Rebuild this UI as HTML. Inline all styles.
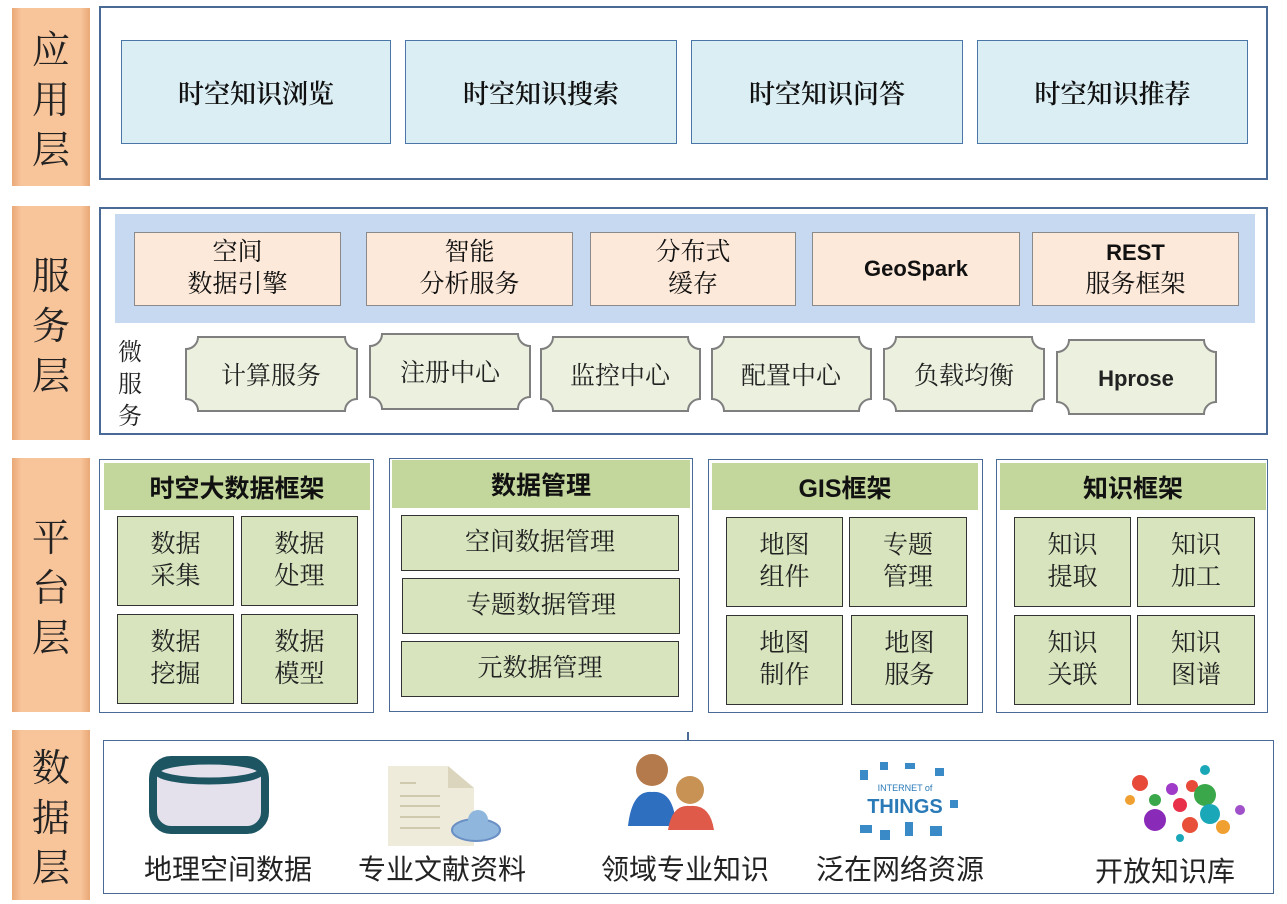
<!DOCTYPE html>
<html><head><meta charset="utf-8"><style>
body{margin:0;width:1287px;height:904px;background:#fff;position:relative;overflow:hidden;font-family:"Liberation Sans","Noto Sans CJK SC",sans-serif;color:#111}
.a{position:absolute;box-sizing:border-box}
.lab{background:linear-gradient(90deg,#e9a877 0%,#f8c49a 12%,#f8c49a 88%,#e9a877 100%);display:flex;flex-direction:column;align-items:center;justify-content:center;font-size:38px;line-height:50px;color:#222;font-family:"Noto Serif CJK SC","Liberation Serif",serif}
.box{border:2px solid #4a6a96;background:#fff}
.app{background:#dbeef4;border:1.5px solid #4a77a8;display:flex;align-items:center;justify-content:center;font-size:26px;font-family:"Liberation Serif","Noto Serif CJK SC",serif;font-weight:600}
.svc{background:#fde9d9;border:1.5px solid #8a8a8a;display:flex;align-items:center;justify-content:center;text-align:center;font-size:25px;line-height:32px;font-family:"Liberation Serif","Noto Serif CJK SC",serif}
.hd{background:#c3d69b;display:flex;align-items:center;justify-content:center;font-size:25px;font-weight:bold}
.c{background:#d7e4bd;border:1.5px solid #333;display:flex;align-items:center;justify-content:center;text-align:center;font-size:25px;line-height:32px;color:#222;font-family:"Liberation Serif","Noto Serif CJK SC",serif}
.dl{font-size:28px;color:#222;white-space:nowrap}
</style></head><body>
<div class="a lab" style="left:12px;top:8px;width:78px;height:178px">应<br>用<br>层</div>
<div class="a lab" style="left:12px;top:206px;width:78px;height:234px">服<br>务<br>层</div>
<div class="a lab" style="left:12px;top:458px;width:78px;height:254px">平<br>台<br>层</div>
<div class="a lab" style="left:12px;top:730px;width:78px;height:170px">数<br>据<br>层</div>

<div class="a box" style="left:99px;top:6px;width:1169px;height:174px"></div>
<div class="a app" style="left:121px;top:40px;width:270px;height:104px">时空知识浏览</div>
<div class="a app" style="left:405px;top:40px;width:272px;height:104px">时空知识搜索</div>
<div class="a app" style="left:691px;top:40px;width:272px;height:104px">时空知识问答</div>
<div class="a app" style="left:977px;top:40px;width:271px;height:104px">时空知识推荐</div>

<div class="a box" style="left:99px;top:207px;width:1169px;height:228px"></div>
<div class="a" style="left:115px;top:214px;width:1140px;height:109px;background:#c6d9f0"></div>
<div class="a svc" style="left:134px;top:232px;width:207px;height:74px">空间<br>数据引擎</div>
<div class="a svc" style="left:366px;top:232px;width:207px;height:74px">智能<br>分析服务</div>
<div class="a svc" style="left:590px;top:232px;width:206px;height:74px">分布式<br>缓存</div>
<div class="a svc" style="left:812px;top:232px;width:208px;height:74px;font-weight:bold;font-size:22px;font-family:'Liberation Sans',sans-serif">GeoSpark</div>
<div class="a svc" style="left:1032px;top:232px;width:207px;height:74px"><span><b style="font-size:22px;font-family:'Liberation Sans',sans-serif">REST</b><br>服务框架</span></div>
<div class="a" style="left:118px;top:334px;width:30px;font-size:24px;line-height:32px;color:#222;font-family:'Noto Serif CJK SC',serif">微<br>服<br>务</div>
<svg class="a" style="left:0;top:0" width="1287" height="904">
<g fill="#ebf1de" stroke="#7f7f7f" stroke-width="2">
<path d="M198,337 L345,337 A12,12 0 0 0 357,349 L357,399 A12,12 0 0 0 345,411 L198,411 A12,12 0 0 0 186,399 L186,349 A12,12 0 0 0 198,337Z"/>
<path d="M382,334 L518,334 A12,12 0 0 0 530,346 L530,397 A12,12 0 0 0 518,409 L382,409 A12,12 0 0 0 370,397 L370,346 A12,12 0 0 0 382,334Z"/>
<path d="M553,337 L688,337 A12,12 0 0 0 700,349 L700,399 A12,12 0 0 0 688,411 L553,411 A12,12 0 0 0 541,399 L541,349 A12,12 0 0 0 553,337Z"/>
<path d="M724,337 L859,337 A12,12 0 0 0 871,349 L871,399 A12,12 0 0 0 859,411 L724,411 A12,12 0 0 0 712,399 L712,349 A12,12 0 0 0 724,337Z"/>
<path d="M896,337 L1032,337 A12,12 0 0 0 1044,349 L1044,399 A12,12 0 0 0 1032,411 L896,411 A12,12 0 0 0 884,399 L884,349 A12,12 0 0 0 896,337Z"/>
<path d="M1069,340 L1204,340 A12,12 0 0 0 1216,352 L1216,402 A12,12 0 0 0 1204,414 L1069,414 A12,12 0 0 0 1057,402 L1057,352 A12,12 0 0 0 1069,340Z"/>
</g>
<g font-family="Liberation Serif,Noto Serif CJK SC,serif" font-size="25" fill="#222" text-anchor="middle">
<text x="271" y="384">计算服务</text><text x="450" y="381">注册中心</text><text x="620" y="384">监控中心</text>
<text x="791" y="384">配置中心</text><text x="964" y="384">负载均衡</text><text x="1136" y="386" font-weight="bold" font-size="22" font-family="Liberation Sans,sans-serif">Hprose</text>
</g>
<line x1="688" y1="732" x2="688" y2="741" stroke="#4a6a96" stroke-width="2"/>
</svg>

<div class="a box" style="left:99px;top:459px;width:275px;height:254px;border-width:1.5px"></div>
<div class="a hd" style="left:104px;top:463px;width:266px;height:47px">时空大数据框架</div>
<div class="a c" style="left:117px;top:516px;width:117px;height:90px">数据<br>采集</div>
<div class="a c" style="left:241px;top:516px;width:117px;height:90px">数据<br>处理</div>
<div class="a c" style="left:117px;top:614px;width:117px;height:90px">数据<br>挖掘</div>
<div class="a c" style="left:241px;top:614px;width:117px;height:90px">数据<br>模型</div>

<div class="a box" style="left:389px;top:458px;width:304px;height:254px;border-width:1.5px"></div>
<div class="a hd" style="left:392px;top:460px;width:298px;height:48px">数据管理</div>
<div class="a c" style="left:401px;top:515px;width:278px;height:56px">空间数据管理</div>
<div class="a c" style="left:402px;top:578px;width:278px;height:56px">专题数据管理</div>
<div class="a c" style="left:401px;top:641px;width:278px;height:56px">元数据管理</div>

<div class="a box" style="left:708px;top:459px;width:275px;height:254px;border-width:1.5px"></div>
<div class="a hd" style="left:712px;top:463px;width:266px;height:47px"><span>GIS框架</span></div>
<div class="a c" style="left:726px;top:517px;width:117px;height:90px">地图<br>组件</div>
<div class="a c" style="left:849px;top:517px;width:118px;height:90px">专题<br>管理</div>
<div class="a c" style="left:726px;top:615px;width:117px;height:90px">地图<br>制作</div>
<div class="a c" style="left:851px;top:615px;width:117px;height:90px">地图<br>服务</div>

<div class="a box" style="left:996px;top:459px;width:272px;height:254px;border-width:1.5px"></div>
<div class="a hd" style="left:1000px;top:463px;width:266px;height:47px">知识框架</div>
<div class="a c" style="left:1014px;top:517px;width:117px;height:90px">知识<br>提取</div>
<div class="a c" style="left:1137px;top:517px;width:118px;height:90px">知识<br>加工</div>
<div class="a c" style="left:1014px;top:615px;width:117px;height:90px">知识<br>关联</div>
<div class="a c" style="left:1137px;top:615px;width:118px;height:90px">知识<br>图谱</div>

<div class="a box" style="left:103px;top:740px;width:1171px;height:154px;border-width:1.5px"></div>
<svg class="a" style="left:0;top:0" width="1287" height="904">
<rect x="153" y="760" width="112" height="70" rx="18" fill="#e4e0ec" stroke="#1d5662" stroke-width="8"/>
<ellipse cx="209" cy="771" rx="52" ry="10" fill="#e4e0ec" stroke="#1d5662" stroke-width="7"/>
<path d="M388,766 L448,766 L474,788 L474,846 L388,846Z" fill="#efebdb"/>
<polygon points="448,766 474,788 448,788" fill="#dcd5bd"/>
<g stroke="#cfc9ae" stroke-width="2"><line x1="400" y1="783" x2="416" y2="783"/><line x1="400" y1="796" x2="440" y2="796"/><line x1="400" y1="806" x2="440" y2="806"/><line x1="400" y1="817" x2="440" y2="817"/><line x1="400" y1="828" x2="440" y2="828"/></g>
<ellipse cx="476" cy="830" rx="24" ry="11" fill="#8fb6dc" stroke="#6a8fc4" stroke-width="2"/>
<circle cx="478" cy="820" r="10" fill="#8fb6dc"/>
<circle cx="652" cy="770" r="16" fill="#b57a4c"/><path d="M628,826 Q632,790 652,792 Q674,790 676,826Z" fill="#2f6fc0"/>
<circle cx="690" cy="790" r="14" fill="#c89255"/><path d="M668,830 Q672,804 690,806 Q710,804 714,830Z" fill="#e05a4a"/>
<text x="905" y="813" font-family="Liberation Sans" font-weight="bold" font-size="20" fill="#2a7ab8" text-anchor="middle">THINGS</text>
<text x="905" y="791" font-family="Liberation Sans" font-size="9" fill="#2a7ab8" text-anchor="middle">INTERNET of</text>
<g fill="#3a8ac8"><rect x="860" y="770" width="8" height="10"/><rect x="880" y="762" width="8" height="8"/><rect x="905" y="763" width="10" height="6"/><rect x="935" y="768" width="9" height="8"/><rect x="860" y="825" width="12" height="8"/><rect x="880" y="830" width="10" height="10"/><rect x="905" y="822" width="8" height="14"/><rect x="930" y="826" width="12" height="10"/><rect x="950" y="800" width="8" height="8"/></g>
<g><circle cx="1140" cy="783" r="8" fill="#e84a3a"/><circle cx="1172" cy="789" r="6" fill="#a03ac8"/><circle cx="1192" cy="786" r="6" fill="#e84a3a"/><circle cx="1205" cy="795" r="11" fill="#3aa84a"/><circle cx="1155" cy="800" r="6" fill="#3aa84a"/><circle cx="1180" cy="805" r="7" fill="#e8304a"/><circle cx="1210" cy="814" r="10" fill="#1aa8b8"/><circle cx="1155" cy="820" r="11" fill="#8a2ab8"/><circle cx="1190" cy="825" r="8" fill="#e8503a"/><circle cx="1223" cy="827" r="7" fill="#f0a030"/><circle cx="1130" cy="800" r="5" fill="#f0a030"/><circle cx="1240" cy="810" r="5" fill="#a050c8"/><circle cx="1205" cy="770" r="5" fill="#1aa8b8"/><circle cx="1180" cy="838" r="4" fill="#1aa8b8"/></g>
</svg>
<div class="a dl" style="left:144px;top:848px">地理空间数据</div>
<div class="a dl" style="left:358px;top:848px">专业文献资料</div>
<div class="a dl" style="left:601px;top:848px">领域专业知识</div>
<div class="a dl" style="left:816px;top:848px">泛在网络资源</div>
<div class="a dl" style="left:1095px;top:850px">开放知识库</div>
</body></html>
